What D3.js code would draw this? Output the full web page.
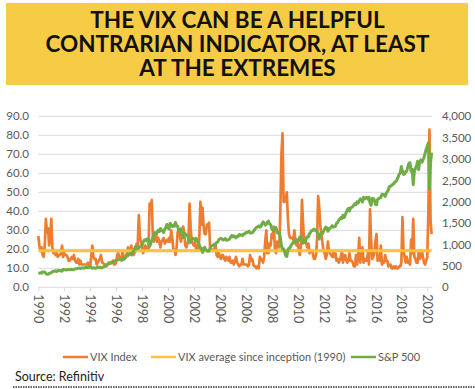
<!DOCTYPE html>
<html>
<head>
<meta charset="utf-8">
<script src="https://cdn.jsdelivr.net/npm/d3@7"></script>
<style>
  body { margin: 0; background: #fff; }
  svg { display: block; font-family: Lato, "Open Sans", sans-serif; }
</style>
</head>
<body>
<script>
// monthly values, Jan 1990 .. May 2020 (spikes kept)
var vixByYear = [
  [27, 22, 19, 21, 17, 16, 22, 36, 29, 31, 22, 26], // 1990
  [36, 21, 18, 18, 17, 18, 16, 17, 17, 18, 22, 16],
  [18, 17, 17, 16, 14, 14, 15, 16, 15, 17, 14, 13],
  [13, 15, 12, 14, 12, 12, 12, 12, 12, 12, 13, 11],
  [11, 16, 22, 16, 15, 15, 12, 13, 14, 15, 17, 13],
  [13, 12, 12, 11, 12, 13, 13, 13, 13, 14, 12, 12], // 1995
  [13, 17, 18, 16, 15, 14, 19, 16, 15, 16, 18, 21],
  [20, 19, 22, 19, 17, 18, 19, 23, 22, 38, 27, 24],
  [22, 18, 19, 22, 21, 20, 20, 44, 41, 46, 27, 24],
  [26, 28, 24, 26, 24, 21, 24, 25, 26, 23, 24, 25],
  [24, 26, 24, 30, 26, 20, 20, 17, 21, 29, 30, 27], // 2000
  [24, 28, 32, 29, 22, 21, 23, 25, 44, 31, 24, 23],
  [22, 24, 20, 22, 20, 26, 45, 33, 42, 32, 28, 28],
  [33, 32, 34, 21, 20, 19, 20, 20, 23, 17, 16, 18],
  [16, 15, 17, 17, 15, 14, 16, 15, 14, 16, 13, 13],
  [14, 12, 14, 16, 13, 12, 11, 12, 12, 15, 12, 12], // 2005
  [12, 12, 11, 12, 17, 14, 15, 12, 11, 11, 10, 11],
  [10, 16, 15, 14, 13, 16, 24, 30, 18, 18, 23, 22],
  [28, 26, 32, 20, 18, 24, 23, 21, 40, 70, 81, 45],
  [45, 46, 50, 36, 28, 26, 26, 26, 25, 30, 24, 22],
  [24, 20, 17, 22, 46, 34, 24, 26, 23, 21, 23, 18], // 2010
  [19, 19, 18, 15, 15, 17, 25, 48, 42, 32, 28, 23],
  [19, 18, 15, 17, 24, 19, 18, 17, 16, 18, 16, 18],
  [14, 15, 13, 14, 16, 19, 13, 17, 17, 14, 13, 14],
  [18, 14, 14, 13, 11, 11, 17, 12, 16, 26, 13, 19],
  [21, 13, 15, 14, 14, 18, 12, 41, 24, 15, 16, 18], // 2015
  [24, 28, 14, 15, 14, 22, 12, 13, 13, 17, 14, 14],
  [11, 12, 12, 10, 10, 11, 10, 11, 10, 10, 11, 11],
  [13, 37, 20, 16, 13, 16, 13, 13, 12, 25, 18, 36],
  [16, 15, 13, 13, 19, 15, 16, 19, 16, 13, 12, 14],
  [16, 40, 83, 35, 28]                               // 2020
];

var spxByYear = [
  [329, 331, 339, 330, 361, 358, 356, 322, 306, 304, 322, 330], // 1990
  [343, 367, 375, 375, 389, 371, 387, 395, 388, 392, 375, 417],
  [408, 412, 403, 414, 415, 408, 424, 414, 418, 419, 431, 436],
  [439, 443, 451, 440, 450, 451, 448, 464, 459, 468, 462, 466],
  [481, 467, 446, 451, 457, 444, 458, 475, 463, 472, 454, 459],
  [470, 487, 501, 515, 533, 545, 562, 562, 584, 582, 605, 616], // 1995
  [636, 640, 646, 654, 669, 671, 640, 652, 687, 705, 757, 741],
  [786, 791, 757, 801, 848, 885, 954, 899, 947, 915, 955, 970],
  [980, 1049, 1102, 1112, 1091, 1134, 1121, 957, 1017, 1099, 1164, 1229],
  [1280, 1238, 1286, 1335, 1302, 1373, 1329, 1320, 1283, 1363, 1389, 1469],
  [1394, 1366, 1499, 1452, 1421, 1455, 1431, 1518, 1437, 1429, 1315, 1320], // 2000
  [1366, 1240, 1160, 1249, 1256, 1224, 1211, 1134, 1041, 1060, 1139, 1148],
  [1130, 1107, 1147, 1077, 1067, 990, 912, 916, 815, 886, 936, 880],
  [856, 841, 848, 917, 964, 975, 990, 1008, 996, 1051, 1058, 1112],
  [1131, 1145, 1126, 1107, 1121, 1141, 1102, 1104, 1115, 1130, 1174, 1212],
  [1181, 1204, 1181, 1157, 1192, 1191, 1234, 1220, 1229, 1207, 1249, 1248], // 2005
  [1280, 1281, 1295, 1311, 1270, 1270, 1277, 1304, 1336, 1378, 1401, 1418],
  [1438, 1407, 1421, 1482, 1531, 1503, 1455, 1474, 1527, 1549, 1481, 1468],
  [1379, 1331, 1323, 1386, 1400, 1280, 1267, 1283, 1166, 969, 896, 903],
  [826, 735, 720, 873, 919, 919, 987, 1021, 1057, 1036, 1096, 1115],
  [1074, 1104, 1169, 1187, 1089, 1031, 1102, 1049, 1141, 1183, 1181, 1258], // 2010
  [1286, 1327, 1326, 1364, 1345, 1321, 1292, 1219, 1131, 1253, 1247, 1258],
  [1312, 1366, 1408, 1398, 1310, 1362, 1379, 1407, 1441, 1412, 1416, 1426],
  [1498, 1515, 1569, 1598, 1631, 1606, 1686, 1633, 1682, 1757, 1806, 1848],
  [1783, 1859, 1872, 1884, 1924, 1960, 1931, 2003, 1972, 2018, 2068, 2059],
  [1995, 2105, 2068, 2086, 2107, 2063, 2104, 1972, 1920, 2079, 2080, 2044], // 2015
  [1940, 1932, 2060, 2065, 2097, 2099, 2174, 2171, 2168, 2126, 2199, 2239],
  [2279, 2364, 2363, 2384, 2412, 2423, 2470, 2472, 2519, 2575, 2648, 2674],
  [2824, 2714, 2641, 2648, 2705, 2718, 2816, 2902, 2914, 2712, 2760, 2400],
  [2704, 2784, 2834, 2946, 2752, 2942, 2980, 2926, 2977, 3038, 3141, 3231],
  [3300, 3380, 2300, 2900, 3150]                                             // 2020
];

var vixAverage = 19.2;
var leftTicks = d3.range(0, 91, 10);
var rightTicks = d3.range(0, 4001, 500);
var yearTicks = d3.range(1990, 2021, 2);
var seriesNames = ["VIX Index", "VIX average since inception (1990)", "S&P 500"];
var seriesColors = ["#ED7D31", "#FBC23A", "#70AD47"];
var titleLines = ["THE VIX CAN BE A HELPFUL", "CONTRARIAN INDICATOR, AT LEAST", "AT THE EXTREMES"];

function monthly(byYear) {
  var out = [];
  byYear.forEach(function(vals, yi) {
    vals.forEach(function(v, m) { out.push({t: 1990 + yi + m / 12, v: v}); });
  });
  return out;
}
var vix = monthly(vixByYear);
var spx = monthly(spxByYear);

var width = 475, height = 389;
var svg = d3.select("body").append("svg")
    .attr("width", width)
    .attr("height", height);

// title box
svg.append("rect")
    .attr("x", 6).attr("y", 3)
    .attr("width", 462).attr("height", 82)
    .attr("fill", "#F6CB46");

svg.append("g").selectAll("text")
  .data(titleLines)
  .enter().append("text")
    .attr("x", 237.5)
    .attr("y", function(d, i) { return 27.5 + i * 24.3; })
    .attr("text-anchor", "middle")
    .attr("font-size", 22.5)
    .attr("font-weight", 700)
    .attr("fill", "#111")
    .text(function(d) { return d; });

var x = d3.scaleLinear().domain([1990, 2020]).range([38.3, 427.3]);
var yL = d3.scaleLinear().domain([0, 90]).range([287.3, 116.3]);
var yR = d3.scaleLinear().domain([0, 4000]).range([287.3, 116.3]);
var xEnd = 432;

// gridlines
svg.append("g").selectAll("line")
  .data(leftTicks.slice(1))
  .enter().append("line")
    .attr("x1", x(1990)).attr("x2", xEnd)
    .attr("y1", function(d) { return yL(d); })
    .attr("y2", function(d) { return yL(d); })
    .attr("stroke", "#D9D9D9")
    .attr("stroke-width", 1);

var leftAxis = svg.append("g")
    .attr("transform", "translate(" + 29 + ",0)")
    .call(d3.axisLeft(yL).tickValues(leftTicks).tickFormat(d3.format(".1f")).tickSize(0).tickPadding(0));
leftAxis.select(".domain").remove();

var rightAxis = svg.append("g")
    .attr("transform", "translate(" + 442 + ",0)")
    .call(d3.axisRight(yR).tickValues(rightTicks).tickFormat(d3.format(",")).tickSize(0).tickPadding(0));
rightAxis.select(".domain").remove();

var xAxis = svg.append("g")
    .attr("transform", "translate(0," + yL(0) + ")")
    .call(d3.axisBottom(x).tickValues(yearTicks).tickFormat(d3.format("d")).tickSize(4).tickSizeOuter(0));
xAxis.select(".domain").attr("d", "M" + x(1990) + ",0H" + xEnd);
xAxis.selectAll(".domain, .tick line").attr("stroke", "#D9D9D9");

svg.selectAll(".tick text")
    .attr("fill", "#595959")
    .attr("font-size", 11.5)
    .attr("font-family", "Lato, sans-serif");

xAxis.selectAll("text")
    .attr("transform", "rotate(90)")
    .attr("text-anchor", "start")
    .attr("x", 7)
    .attr("y", 0)
    .attr("dy", "0.35em")
    .attr("font-size", 12.5);

// series
svg.append("path")
    .datum(vix)
    .attr("fill", "none")
    .attr("stroke", seriesColors[0])
    .attr("stroke-width", 2.7)
    .attr("stroke-linejoin", "round")
    .attr("d", d3.line().x(function(d) { return x(d.t); }).y(function(d) { return yL(d.v); }));

svg.append("path")
    .datum([vix[0], vix[vix.length - 1]])
    .attr("fill", "none")
    .attr("stroke", seriesColors[1])
    .attr("stroke-width", 3)
    .attr("d", d3.line().x(function(d) { return x(d.t); }).y(function() { return yL(vixAverage); }));

svg.append("path")
    .datum(spx)
    .attr("fill", "none")
    .attr("stroke", seriesColors[2])
    .attr("stroke-width", 3)
    .attr("stroke-linejoin", "round")
    .attr("d", d3.line().x(function(d) { return x(d.t); }).y(function(d) { return yR(d.v); }));

// legend
var legendX = [63, 151, 351];
var legend = svg.append("g").selectAll("g")
  .data(seriesNames)
  .enter().append("g")
    .attr("transform", function(d, i) { return "translate(" + legendX[i] + ",357)"; });
legend.append("line")
    .attr("x1", 0).attr("x2", 25)
    .attr("stroke", function(d, i) { return seriesColors[i]; })
    .attr("stroke-width", 2.5);
legend.append("text")
    .attr("x", 27)
    .attr("dy", "0.35em")
    .attr("font-size", 11)
    .attr("fill", "#595959")
    .text(function(d) { return d; });

svg.append("text")
    .attr("x", 15).attr("y", 381)
    .attr("font-size", 12.5)
    .attr("fill", "#222")
    .text("Source: Refinitiv");

svg.append("line")
    .attr("x1", 13).attr("x2", 475)
    .attr("y1", 387).attr("y2", 387)
    .attr("stroke", "#333")
    .attr("stroke-width", 1.5)
    .attr("stroke-dasharray", "1.5,1");
</script>
</body>
</html>
